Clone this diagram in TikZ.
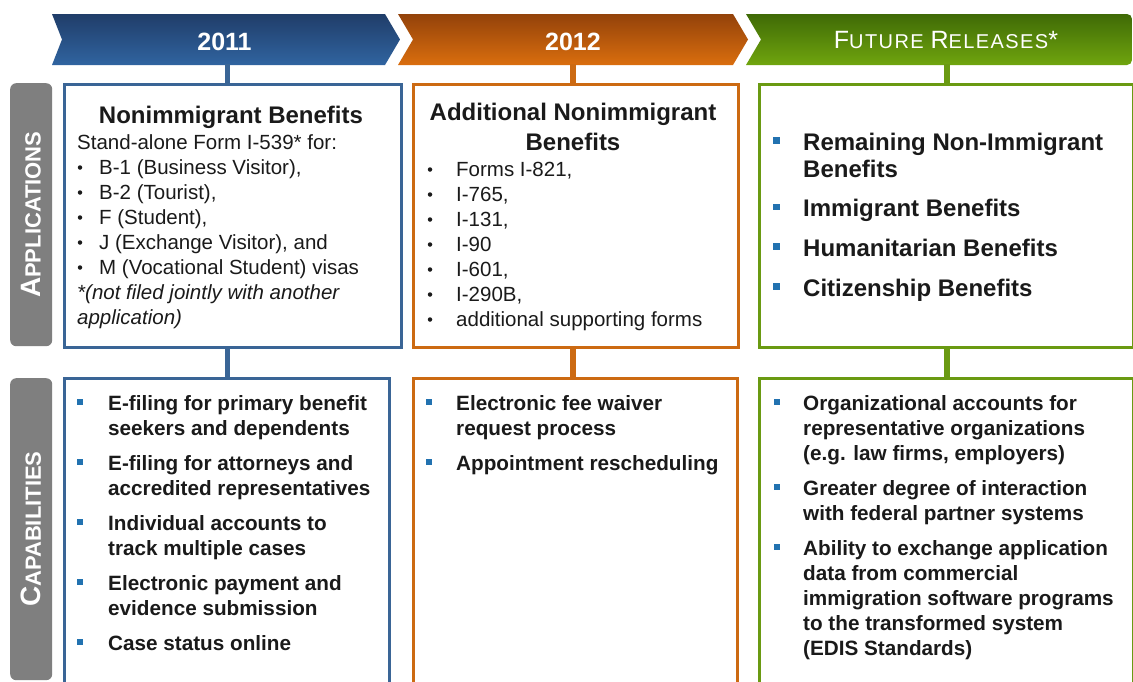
\documentclass[tikz,border=0pt]{standalone}
\usepackage{fontspec}
\setmainfont{Liberation Sans}
\newfontfamily\spacedfont[LetterSpace=7]{Liberation Sans}
\definecolor{bbd}{HTML}{3A6596}
\definecolor{obd}{HTML}{CC6A12}
\definecolor{gbd}{HTML}{6A9A12}
\definecolor{bulb}{HTML}{2272B0}
\definecolor{sidegray}{HTML}{7F7F7F}
\definecolor{ink}{HTML}{1A1A1A}
\definecolor{bT}{HTML}{203D69}
\definecolor{bB}{HTML}{3064A0}
\definecolor{oT}{HTML}{93420A}
\definecolor{oB}{HTML}{DA6E0E}
\definecolor{gT}{HTML}{3F6A06}
\definecolor{gB}{HTML}{70A50E}
\begin{document}
\begin{tikzpicture}[x=1pt,y=-1pt,
  bx/.style={draw, line width=3pt, fill=white, inner sep=0pt, anchor=north west},
  sidebox/.style={fill=sidegray, rounded corners=6pt, inner sep=0pt, anchor=north west, minimum width=42pt},
  sidetxt/.style={rotate=90, text=white, inner sep=0pt, font=\bfseries},
  conn/.style={line width=5.5pt},
  yr/.style={anchor=base, inner sep=0pt, text=white, font=\fontsize{25}{30}\selectfont\bfseries},
  ttl/.style={anchor=base, inner sep=0pt, text=ink, font=\fontsize{24}{29}\selectfont\bfseries},
  tx/.style={anchor=base west, inner sep=0pt, text=ink, font=\fontsize{20.5}{25}\selectfont},
  txi/.style={tx, font=\fontsize{20.5}{25}\selectfont\itshape},
  txb/.style={anchor=base west, inner sep=0pt, text=ink, font=\fontsize{20.7}{25}\selectfont\bfseries},
  txg/.style={anchor=base west, inner sep=0pt, text=ink, font=\fontsize{24}{27}\selectfont\bfseries},
  rb/.style={circle, fill=ink, minimum size=4.5pt, inner sep=0pt},
  sq/.style={rectangle, fill=bulb, minimum size=6pt, inner sep=0pt},
  sqg/.style={rectangle, fill=bulb, minimum size=6.5pt, inner sep=0pt}
]
\clip (0,0) rectangle (1133,681);
\fill[white] (0,0) rectangle (1133,681);

% chevrons
\shade[top color=bT, bottom color=bB] (52,14) -- (385,14) -- (400,39.5) -- (385,65) -- (52,65) -- (62,39.5) -- cycle;
\shade[top color=oT, bottom color=oB] (398,14) -- (733,14) -- (748,39.5) -- (733,65) -- (398,65) -- (413,39.5) -- cycle;
\shade[top color=gT, bottom color=gB] (746,14) -- (1127,14) arc[start angle=-90, end angle=0, radius=5] -- (1132,60) arc[start angle=0, end angle=90, radius=5] -- (746,65) -- (761,39.5) -- cycle;

\node[yr] (y1) at (224.5,50) {2011};
\node[yr] (y2) at (573,50) {2012};
\node[anchor=base, inner sep=0pt, text=white] (y3) at (946,48) {\spacedfont\fontsize{25}{30}\selectfont F\fontsize{20}{30}\selectfont UTURE \fontsize{25}{30}\selectfont R\fontsize{20}{30}\selectfont ELEASES\fontsize{25}{30}\selectfont *};

% side labels
\node[sidebox, minimum height=263pt] (s1) at (10,83) {};
\node[sidetxt] (s1t) at (s1.center) {\fontsize{28}{30}\selectfont A\fontsize{22}{30}\selectfont PPLICATIONS};
\node[sidebox, minimum height=302pt] (s2) at (10,378) {};
\node[sidetxt] (s2t) at (s2.center) {\fontsize{28}{30}\selectfont C\fontsize{22}{30}\selectfont APABILITIES};

% boxes
\node[bx, draw=bbd, minimum width=337pt, minimum height=263pt] (a1) at (63,83) {};
\node[bx, draw=obd, minimum width=325pt, minimum height=263pt] (a2) at (412,83) {};
\node[bx, draw=gbd, minimum width=374pt, minimum height=263pt] (a3) at (758,83) {};
\node[bx, draw=bbd, minimum width=325pt, minimum height=330pt] (b1) at (63,377) {};
\node[bx, draw=obd, minimum width=324pt, minimum height=330pt] (b2) at (412,377) {};
\node[bx, draw=gbd, minimum width=374pt, minimum height=330pt] (b3) at (758,377) {};

% connectors
\coordinate (k1) at (227.5,64);
\coordinate (k2) at (573,64);
\coordinate (k3) at (947,64);
\draw[conn, draw=bbd] (k1) -- (k1 |- a1.north);
\draw[conn, draw=bbd] (k1 |- a1.south) -- (k1 |- b1.north);
\draw[conn, draw=obd] (k2) -- (k2 |- a2.north);
\draw[conn, draw=obd] (k2 |- a2.south) -- (k2 |- b2.north);
\draw[conn, draw=gbd] (k3) -- (k3 |- a3.north);
\draw[conn, draw=gbd] (k3 |- a3.south) -- (k3 |- b3.north);

% application 2011
\node[ttl] (a1t) at (231,123) {Nonimmigrant Benefits};
\node[tx] (a1l) at (77,149) {Stand-alone Form I-539* for:};
\node[rb] (a1b1) at (80,167.5) {}; \node[tx] (a1i1) at (99,174) {B-1 (Business Visitor),};
\node[rb] (a1b2) at (80,192.5) {}; \node[tx] (a1i2) at (99,199) {B-2 (Tourist),};
\node[rb] (a1b3) at (80,217.5) {}; \node[tx] (a1i3) at (99,224) {F (Student),};
\node[rb] (a1b4) at (80,242.5) {}; \node[tx] (a1i4) at (99,249) {J (Exchange Visitor), and};
\node[rb] (a1b5) at (80,267.5) {}; \node[tx] (a1i5) at (99,274) {M (Vocational Student) visas};
\node[txi] (a1n1) at (77,299) {*(not filed jointly with another};
\node[txi] (a1n2) at (77,324) {application)};

% application 2012
\node[ttl] (a2t1) at (573,120.5) {Additional Nonimmigrant};
\node[ttl] (a2t2) at (573,150) {Benefits};
\node[rb] (a2b1) at (430,169.5) {}; \node[tx] (a2i1) at (456,176) {Forms I-821,};
\node[rb] (a2b2) at (430,194.5) {}; \node[tx] (a2i2) at (456,201) {I-765,};
\node[rb] (a2b3) at (430,219.5) {}; \node[tx] (a2i3) at (456,226) {I-131,};
\node[rb] (a2b4) at (430,244.5) {}; \node[tx] (a2i4) at (456,251) {I-90};
\node[rb] (a2b5) at (430,269.5) {}; \node[tx] (a2i5) at (456,276) {I-601,};
\node[rb] (a2b6) at (430,294.5) {}; \node[tx] (a2i6) at (456,301) {I-290B,};
\node[rb] (a2b7) at (430,319.5) {}; \node[tx] (a2i7) at (456,326) {additional supporting forms};

% application future
\node[sqg] (a3b1) at (776.5,140.5) {}; \node[txg] (a3i1) at (803,150) {Remaining Non-Immigrant};
\node[txg] (a3i1b) at (803,177) {Benefits};
\node[sqg] (a3b2) at (776.5,207) {}; \node[txg] (a3i2) at (803,216.5) {Immigrant Benefits};
\node[sqg] (a3b3) at (776.5,246.5) {}; \node[txg] (a3i3) at (803,256) {Humanitarian Benefits};
\node[sqg] (a3b4) at (776.5,286.5) {}; \node[txg] (a3i4) at (803,296) {Citizenship Benefits};

% capabilities 2011
\node[sq] (b1b1) at (80,401.7) {}; \node[txb] (b1i1) at (108,410) {E-filing for primary benefit};
\node[txb] (b1i1b) at (108,435) {seekers and dependents};
\node[sq] (b1b2) at (80,461.7) {}; \node[txb] (b1i2) at (108,470) {E-filing for attorneys and};
\node[txb] (b1i2b) at (108,495) {accredited representatives};
\node[sq] (b1b3) at (80,521.7) {}; \node[txb] (b1i3) at (108,530) {Individual accounts to};
\node[txb] (b1i3b) at (108,555) {track multiple cases};
\node[sq] (b1b4) at (80,581.7) {}; \node[txb] (b1i4) at (108,590) {Electronic payment and};
\node[txb] (b1i4b) at (108,615) {evidence submission};
\node[sq] (b1b5) at (80,641.7) {}; \node[txb] (b1i5) at (108,650) {Case status online};

% capabilities 2012
\node[sq] (b2b1) at (428.5,401.7) {}; \node[txb] (b2i1) at (456,410) {Electronic fee waiver};
\node[txb] (b2i1b) at (456,435) {request process};
\node[sq] (b2b2) at (428.5,461.7) {}; \node[txb] (b2i2) at (456,470) {Appointment rescheduling};

% capabilities future
\node[sq] (b3b1) at (777,401.7) {}; \node[txb] (b3i1) at (803,410) {Organizational accounts for};
\node[txb] (b3i1b) at (803,435) {representative organizations};
\node[txb] (b3i1c) at (803,460) {(e.g. law firms, employers)};
\node[sq] (b3b2) at (777,487.3) {}; \node[txb] (b3i2) at (803,495.5) {Greater degree of interaction};
\node[txb] (b3i2b) at (803,520) {with federal partner systems};
\node[sq] (b3b3) at (777,546.7) {}; \node[txb] (b3i3) at (803,555) {Ability to exchange application};
\node[txb] (b3i3b) at (803,580) {data from commercial};
\node[txb] (b3i3c) at (803,605) {immigration software programs};
\node[txb] (b3i3d) at (803,630) {to the transformed system};
\node[txb] (b3i3e) at (803,655) {(EDIS Standards)};
\end{tikzpicture}
\end{document}
